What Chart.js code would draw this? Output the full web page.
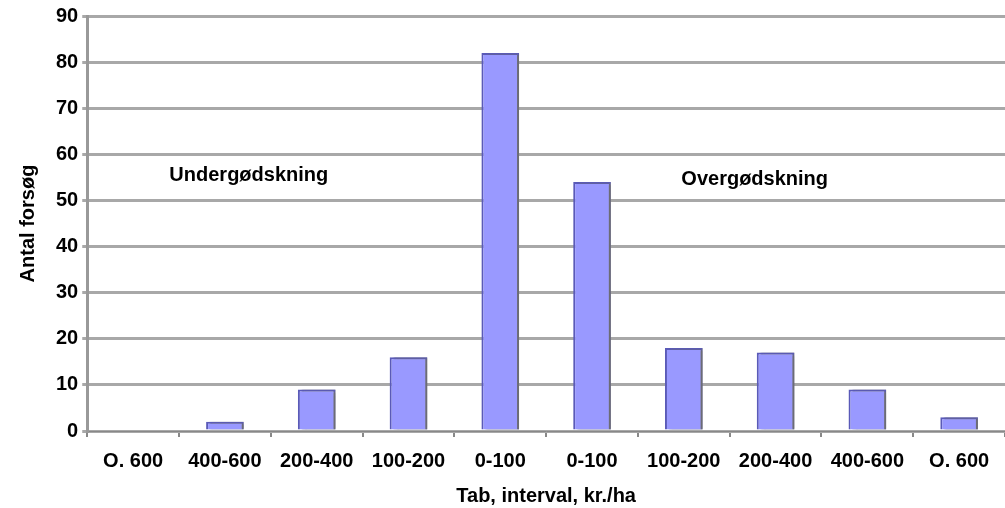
<!DOCTYPE html>
<html>
<head>
<meta charset="utf-8">
<script src="https://cdn.jsdelivr.net/npm/chart.js@4/dist/chart.umd.min.js"></script>
<style>
  html, body { margin: 0; padding: 0; background: #fff; }
  #wrap { width: 1005px; height: 508px; }
</style>
</head>
<body>
<div id="wrap"><canvas id="chart"></canvas></div>
<script>
const categories = ["O. 600", "400-600", "200-400", "100-200", "0-100", "0-100", "100-200", "200-400", "400-600", "O. 600"];
const antalForsoeg = [0, 2, 9, 16, 82, 54, 18, 17, 9, 3];
const yTitle = "Antal forsøg";
const xTitle = "Tab, interval, kr./ha";
const areaLabels = ["Undergødskning", "Overgødskning"];

const FONT = "'Liberation Sans', Arial, sans-serif";

// skygge bag søjlerne + tekst for under/over
const extras = {
    id: "extras",
    beforeDatasetDraw(chart) {
        const ctx = chart.ctx;
        ctx.save();
        ctx.shadowColor = "rgba(110,110,110,0.9)";
        ctx.shadowOffsetX = 4;
        ctx.shadowOffsetY = 0;
        ctx.shadowBlur = 2;
    },
    afterDatasetDraw(chart) {
        chart.ctx.restore();
    },
    afterDraw(chart) {
        const ctx = chart.ctx;
        const x = chart.scales.x, y = chart.scales.y;
        ctx.save();
        ctx.fillStyle = "#000";
        ctx.font = "bold 20px " + FONT;
        ctx.textAlign = "center";
        ctx.textBaseline = "middle";
        ctx.fillText(areaLabels[0], (x.getPixelForValue(1) + x.getPixelForValue(2)) / 2 - 22, y.getPixelForValue(55.5));
        ctx.fillText(areaLabels[1], (x.getPixelForValue(6) + x.getPixelForValue(7)) / 2 + 25, y.getPixelForValue(54.5));
        ctx.restore();
    }
};

new Chart(document.getElementById("chart"), {
    type: "bar",
    data: {
        labels: categories,
        datasets: [{
            label: yTitle,
            data: antalForsoeg,
            backgroundColor: "#9999ff",
            borderColor: "#5a5ab8",
            borderWidth: { left: 2, top: 2, right: 2, bottom: 0 },
            barPercentage: 0.41,
            categoryPercentage: 1
        }]
    },
    options: {
        responsive: true,
        maintainAspectRatio: false,
        animation: false,
        layout: { padding: { top: 11, right: 0, left: 12, bottom: 2 } },
        plugins: {
            legend: { display: false },
            tooltip: { enabled: false }
        },
        scales: {
            x: {
                offset: true,
                grid: { offset: true, drawOnChartArea: false, drawTicks: true, tickLength: 6, color: "#888", lineWidth: 2 },
                border: { color: "#888", width: 1 },
                ticks: { color: "#000", font: { family: FONT, size: 20, weight: "bold", lineHeight: 1 }, padding: 14, maxRotation: 0, autoSkip: false },
                title: { display: true, text: xTitle, color: "#000", font: { family: FONT, size: 20, weight: "bold", lineHeight: 1 }, padding: { top: 1, bottom: 0 } }
            },
            y: {
                min: 0,
                max: 90,
                ticks: { stepSize: 10, color: "#000", font: { family: FONT, size: 20, weight: "bold" }, padding: 4 },
                grid: { color: "#a8a8a8", lineWidth: 3, tickLength: 5, drawTicks: true },
                border: { color: "#999", width: 3 },
                title: { display: true, text: yTitle, color: "#000", font: { family: FONT, size: 20, weight: "bold" }, padding: { bottom: 12 } }
            }
        }
    },
    plugins: [extras]
});
</script>
</body>
</html>
